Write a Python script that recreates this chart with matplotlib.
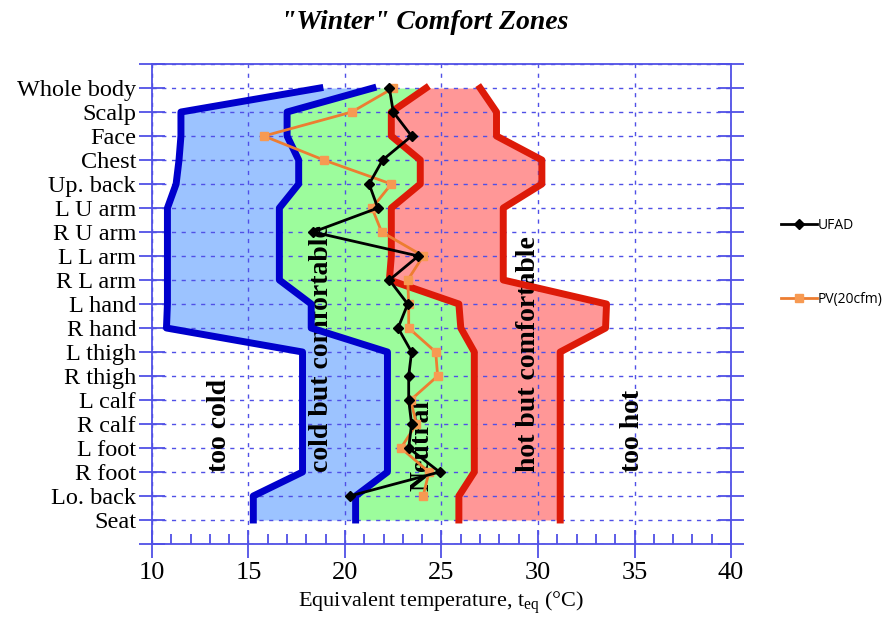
import numpy as np
import matplotlib
matplotlib.use('Agg')
import matplotlib.pyplot as plt

plt.rcParams['font.family'] = 'Liberation Serif'
plt.rcParams['mathtext.fontset'] = 'custom'
plt.rcParams['mathtext.rm'] = 'Liberation Serif'

# Body segments, top to bottom
cats = ['Whole body', 'Scalp', 'Face', 'Chest', 'Up. back', 'L U arm', 'R U arm',
        'L L arm', 'R L arm', 'L hand', 'R hand', 'L thigh', 'R thigh', 'L calf',
        'R calf', 'L foot', 'R foot', 'Lo. back', 'Seat']

# Zone boundaries (equivalent temperature, degC)
cold_edge = [18.7, 11.5, 11.5, 11.4, 11.25, 10.8, 10.8, 10.8, 10.8, 10.8, 10.75,
             17.8, 17.8, 17.8, 17.8, 17.8, 17.8, 15.25, 15.25]
cool_edge = [21.45, 17.0, 17.0, 17.6, 17.6, 16.6, 16.6, 16.6, 16.6, 18.25, 18.25,
             22.2, 22.2, 22.2, 22.2, 22.2, 22.2, 20.55, 20.55]
warm_edge = [24.2, 22.4, 22.4, 23.9, 23.9, 22.4, 22.4, 22.4, 22.3, 25.9, 26.0,
             26.7, 26.7, 26.7, 26.7, 26.7, 26.7, 25.9, 25.9]
hot_edge = [27.0, 27.85, 27.85, 30.2, 30.2, 28.2, 28.2, 28.2, 28.2, 33.55, 33.5,
            31.15, 31.15, 31.15, 31.15, 31.15, 31.15, 31.15, 31.15]

# Measured values (no Seat value)
ufad = [22.3, 22.5, 23.45, 21.95, 21.25, 21.7, 18.35, 23.8, 22.3, 23.25, 22.75,
        23.45, 23.3, 23.3, 23.45, 23.3, 24.9, 20.25]
pv = [22.5, 20.35, 15.8, 18.9, 22.4, 21.4, 21.9, 24.05, 23.25, 23.3, 23.3,
      24.7, 24.8, 23.4, 23.7, 22.9, 24.35, 24.05]

ax_col = '#5050e6'

fig = plt.figure(figsize=(8.93, 6.37), dpi=100)
ax = fig.add_axes([0.1702, 0.146, 0.6484, 0.7535])

y = np.arange(len(cats))
ax.fill_betweenx(y, cold_edge, cool_edge, color='#9cc3ff', lw=0, zorder=0.2)
ax.fill_betweenx(y, cool_edge, warm_edge, color='#9cfc9c', lw=0, zorder=0.2)
ax.fill_betweenx(y, warm_edge, hot_edge, color='#ff9797', lw=0, zorder=0.2)

ax.plot(cold_edge, y, color='#0000cc', lw=5, zorder=2)
ax.plot(cool_edge, y, color='#0000cc', lw=5, zorder=2)
ax.plot(warm_edge, y, color='#dd1a08', lw=5, zorder=2)
ax.plot(hot_edge, y, color='#dd1a08', lw=5, zorder=2)

yd = np.arange(len(ufad))
ax.plot(ufad, yd, color='black', lw=2, marker='D', ms=5, zorder=4, label='UFAD')
ax.plot(pv, yd, color='#ed7d31', lw=2, marker='s', ms=6, mfc='#f79a52',
        mec='#f79a52', zorder=3, label='PV(20cfm)')

# zone labels
zones = [('too cold', 13.5), ('cold but comfortable', 18.8), ('Neutral', 24.0),
         ('hot but comfortable', 29.5), ('too hot', 34.9)]
for txt, xpos in zones:
    yb = 16.8 if txt == 'Neutral' else 16.0
    ax.text(xpos, yb, txt, rotation=90, ha='center', va='bottom', fontsize=20,
            fontweight='bold', zorder=1)

ax.set_xlim(10, 40)
ax.set_ylim(19, -1)
ax.set_xticks(range(10, 41, 5))
ax.set_xticks(range(10, 41), minor=True)
ax.set_yticks(range(-1, 20))
ax.set_yticklabels([''] + cats + [''])

ax.set_axisbelow(True)
ax.grid(True, which='major', color=ax_col, linestyle=(0, (3, 4)), lw=1)
for s in ax.spines.values():
    s.set_color(ax_col)
    s.set_linewidth(1.3)

ax.tick_params(axis='y', direction='inout', length=19, width=1.3, color=ax_col,
               left=True, right=True, labelsize=17.5, pad=2)
ax.tick_params(axis='x', which='major', direction='inout', length=20, width=1.3,
               color=ax_col, labelsize=19, pad=3)
ax.tick_params(axis='x', which='minor', direction='in', length=7, width=1.3,
               color=ax_col)

ax.set_xlabel(r'Equivalent temperature, t$_{\mathregular{eq}}$ ($\mathregular{°C}$)',
              fontsize=16, labelpad=4)
fig.text(0.476, 0.964, '"Winter" Comfort Zones', ha='center', va='center',
         fontsize=20, fontweight='bold', style='italic')

ax.legend(loc='upper left', bbox_to_anchor=(768 / 893, 1 - 205 / 637),
          bbox_transform=fig.transFigure, frameon=False, labelspacing=4.3,
          handlelength=2.6, handletextpad=0.1,
          prop={'family': 'Open Sans', 'size': 10})

fig.savefig('out.png', dpi=100)
